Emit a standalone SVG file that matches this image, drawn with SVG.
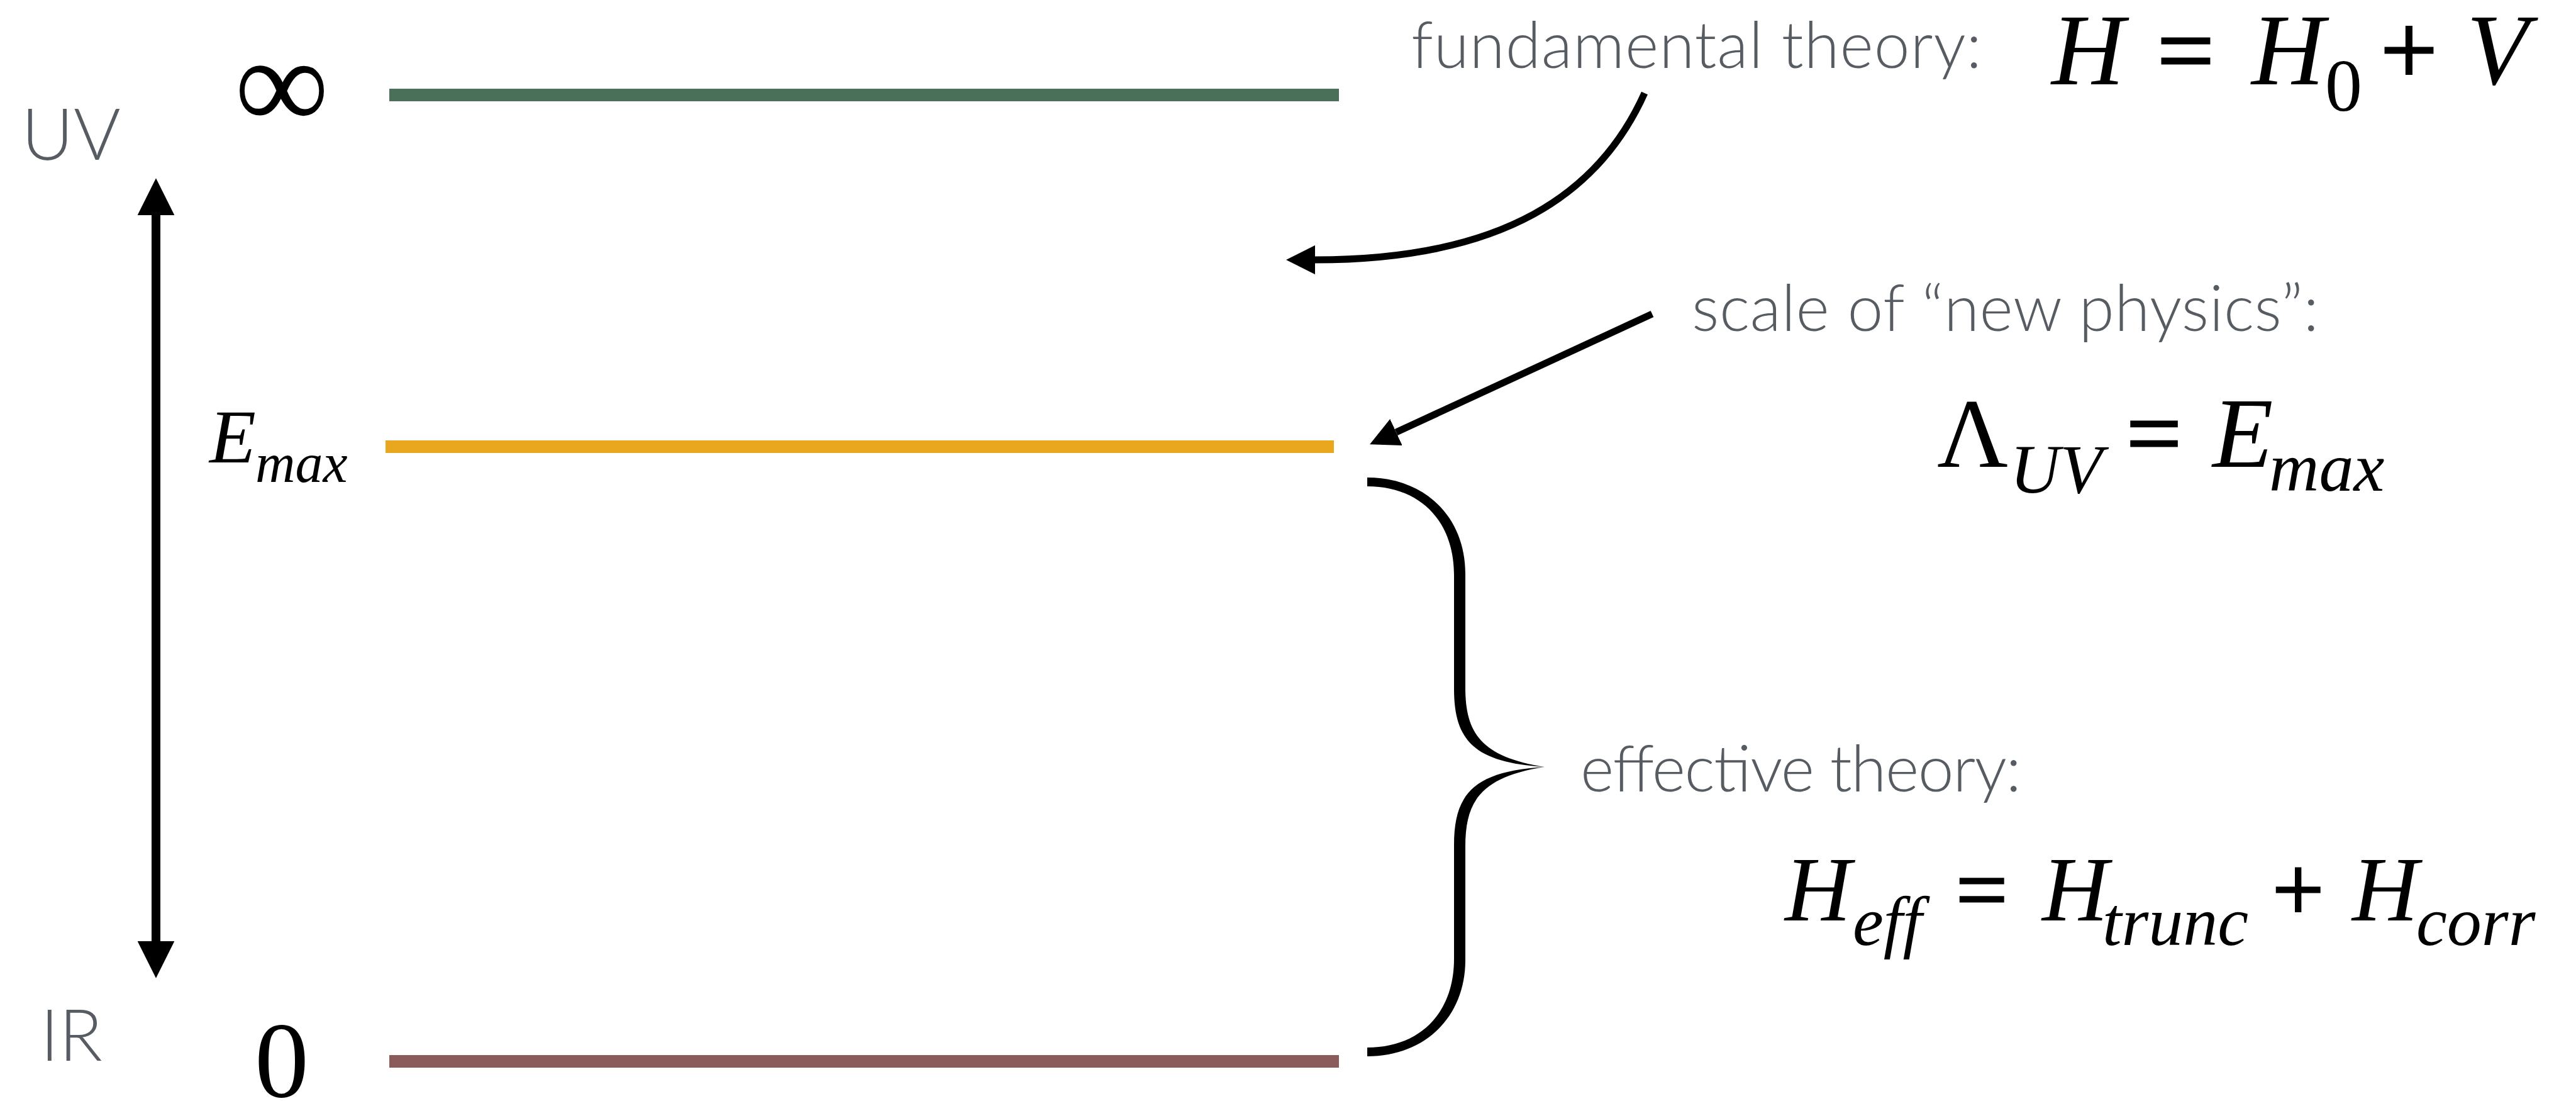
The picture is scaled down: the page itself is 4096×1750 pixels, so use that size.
<svg xmlns="http://www.w3.org/2000/svg" width="4096" height="1750" viewBox="0 0 4096 1750">
<defs>
<marker id="ah" viewBox="0 0 10 10" refX="0" refY="5" markerWidth="4.2" markerHeight="4.2" orient="auto-start-reverse" markerUnits="strokeWidth"><path d="M0,0 L10,5 L0,10 z" fill="#000"/></marker>
<style>
.lbl{font-family:Lato,"Liberation Sans",sans-serif;font-weight:300;fill:#575c63}
.m{font-family:"Liberation Serif","Times New Roman",serif;fill:#000}
.i{font-style:italic}
.op{stroke:#000;stroke-width:3}
.conn{fill:none;stroke:#000}
</style>
</defs>
<rect width="4096" height="1750" fill="#fff"/>
<g id="level-inf">
<rect x="619" y="141" width="1510" height="20" fill="#4b705a"/>
<text class="m" x="448" y="205" font-size="210" text-anchor="middle">∞</text>
</g>
<g id="level-emax">
<rect x="613" y="700" width="1508" height="20" fill="#e9a71f"/>
<text class="m i" y="735"><tspan x="333" font-size="121">E</tspan><tspan x="406" y="766" font-size="88">max</tspan></text>
</g>
<g id="level-zero">
<rect x="619" y="1677" width="1510" height="20" fill="#8b5b5c"/>
<text class="m" x="448" y="1743" font-size="172" text-anchor="middle">0</text>
</g>
<g id="label-uv"><text class="lbl" x="34" y="254" font-size="114">UV</text></g>
<g id="label-ir"><text class="lbl" x="64" y="1686" font-size="114">IR</text></g>
<g id="fundamental">
<text class="lbl" x="2244" y="108" font-size="102" textLength="907">fundamental theory:</text>
<text class="m" y="134" font-size="161"><tspan class="i" x="3262">H</tspan><tspan class="op" x="3430">=</tspan><tspan class="i" x="3580">H</tspan><tspan x="3697" y="176" font-size="118">0</tspan><tspan class="op" x="3785" y="134">+</tspan><tspan class="i" x="3922">V</tspan></text>
</g>
<g id="new-physics">
<text class="lbl" x="2690" y="526" font-size="102" textLength="997">scale of “new physics”:</text>
<text class="m" y="742" font-size="156"><tspan x="3080">Λ</tspan><tspan class="i" x="3196" y="783" font-size="110">UV</tspan><tspan class="op" x="3381" y="742">=</tspan><tspan class="i" x="3518" font-size="158">E</tspan><tspan class="i" x="3608" y="780" font-size="110">max</tspan></text>
</g>
<g id="effective">
<text class="lbl" x="2513" y="1258" font-size="102" textLength="701">effective theory:</text>
<text class="m" y="1463" font-size="146"><tspan class="i" x="2838">H</tspan><tspan class="i" x="2946" y="1502" font-size="110">eff</tspan><tspan class="op" x="3110" y="1463">=</tspan><tspan class="i" x="3247">H</tspan><tspan class="i" x="3343" y="1502" font-size="110">trunc</tspan><tspan class="op" x="3613" y="1463">+</tspan><tspan class="i" x="3740">H</tspan><tspan class="i" x="3842" y="1502" font-size="110">corr</tspan></text>
</g>
<g id="brace">
<path d="M 2174 759 C 2266 759 2330 822 2330 912 L 2330 1093 C 2330 1165 2355 1203 2456 1219 C 2355 1235 2330 1273 2330 1345 L 2330 1526 C 2330 1616 2266 1679 2174 1679 L 2174 1665 C 2258 1665 2312 1610 2312 1524 L 2312 1343 C 2312 1260 2345 1226 2456 1219 C 2345 1212 2312 1178 2312 1095 L 2312 914 C 2312 828 2258 773 2174 773 Z" fill="#000"/>
</g>
<g id="connectors">
<line class="conn" x1="248" y1="342" x2="248" y2="1496" stroke-width="14" marker-start="url(#ah)" marker-end="url(#ah)"/>
<path class="conn" d="M 2615 148 C 2543 308 2391 413 2091 413" stroke-width="11" marker-end="url(#ah)"/>
<line class="conn" x1="2627" y1="499" x2="2220" y2="687" stroke-width="11" marker-end="url(#ah)"/>
</g>
</svg>
